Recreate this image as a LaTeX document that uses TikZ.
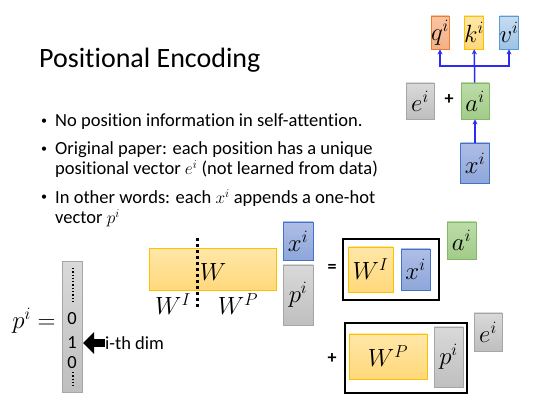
\documentclass[tikz,border=0pt]{standalone}
\usepackage{fontspec}
\setmainfont{Carlito}[Ligatures=NoCommon]
\usetikzlibrary{positioning}
\usetikzlibrary{arrows.meta}
\usetikzlibrary{calc}

\definecolor{grayL}{HTML}{D9D9D9}
\definecolor{grayM}{HTML}{BFBFBF}
\definecolor{grayD}{HTML}{A6A6A6}
\definecolor{greenL}{HTML}{BCDCA8}
\definecolor{greenM}{HTML}{A2CB88}
\definecolor{greenD}{HTML}{82B86A}
\definecolor{blueL}{HTML}{AEBEE6}
\definecolor{blueM}{HTML}{8EA6DA}
\definecolor{blueD}{HTML}{4472C4}
\definecolor{oranL}{HTML}{F8C4A2}
\definecolor{oranM}{HTML}{F4B183}
\definecolor{oranD}{HTML}{ED7D31}
\definecolor{yellL}{HTML}{FFE7A8}
\definecolor{yellM}{HTML}{FFD87A}
\definecolor{yellD}{HTML}{FFC000}
\definecolor{skyL}{HTML}{C7DDF1}
\definecolor{skyM}{HTML}{9DC3E6}
\definecolor{skyD}{HTML}{5B9BD5}
\definecolor{arrblue}{HTML}{2B2BF5}

\newcommand{\boxfont}{\fontsize{23}{24}\selectfont}
\newcommand{\bodyfont}{\fontsize{18.5}{20}\selectfont}

\begin{document}
\begin{tikzpicture}
    [ x=1pt, y=-1pt,
    inner sep=0pt,
    vec/.style={draw, line width=0.8pt, font=\boxfont},
    G/.style={vec, draw=grayD, top color=grayL, bottom color=grayM},
    Gr/.style={vec, draw=greenD, top color=greenL, bottom color=greenM},
    B/.style={vec, draw=blueD, top color=blueL, bottom color=blueM},
    Or/.style={vec, draw=oranD, top color=oranL, bottom color=oranM},
    Y/.style={vec, draw=yellD, top color=yellL, bottom color=yellM},
    S/.style={vec, draw=skyD, top color=skyL, bottom color=skyM},
    frame/.style={draw, line width=2pt},
    arr/.style={draw=arrblue, line width=1.5pt, -{Stealth[length=5pt,width=5pt]}},
    txt/.style={font=\bodyfont, anchor=west, align=left},
    dot/.style={font=\fontsize{12}{12}\selectfont}
    ]

    \useasboundingbox (0,0) rectangle (552,414);

    % title and bullets
    \node[anchor=west, font=\fontsize{28}{32}\selectfont] (title) at (39,60) {Positional Encoding};

    \node[dot] (d1) at (44,122) {\textbullet};
    \node[dot] (d2) at (44,150) {\textbullet};
    \node[dot] (d3) at (44,198) {\textbullet};
    \node[txt] (b1) at (55,122) {No position information in self-attention.};
    \node[txt] (b2) at (55,160) {Original paper: each position has a unique\\positional vector $e^i$ (not learned from data)};
    \node[txt] (b3) at (55,208) {In other words: each $x^i$ appends a one-hot\\vector $p^i$};

    % self-attention input
    \node[Or, minimum width=18, minimum height=33] (q) at (440,32.5) {$q^i$};
    \node[Y,  minimum width=18, minimum height=33] (k) at (474,32.5) {$k^i$};
    \node[S,  minimum width=18, minimum height=33] (v) at (509,32.5) {$v^i$};
    \node[G,  minimum width=28, minimum height=36] (e) at (420,101) {$e^i$};
    \node[font=\bfseries\fontsize{18}{20}\selectfont] (plus) at (449,100) {+};
    \node[Gr, minimum width=28, minimum height=36] (a) at (475,101) {$a^i$};
    \node[B,  minimum width=29, minimum height=40] (x) at (475,163) {$x^i$};

    \coordinate (split) at ($(a.north)!0.5!(k.south)$);
    \draw[arr] (x) -- (a);
    \draw[arr] (a) -- (k);
    \draw[arr] (split) -| (q.south);
    \draw[arr] (split) -| (v.south);

    % W times concatenated vector
    \node[Y, line width=1pt, minimum width=127, minimum height=42] (W) at (212.5,270) {};
    \coordinate (cutT) at (197,238);
    \coordinate (cutB) at (197,308);
    \draw[line width=3pt, dash pattern=on 3pt off 3pt] (cutT) -- (cutB);
    \node[font=\boxfont] (Wl) at (213,272) {$W$};
    \node[font=\boxfont] (WI) at (173,304) {$W^I$};
    \node[font=\boxfont] (WP) at (238,304) {$W^P$};
    \node[B, minimum width=30, minimum height=38] (xm) at (298,241) {$x^i$};
    \node[G, minimum width=30, minimum height=60] (pm) at (298,295) {$p^i$};

    % first term
    \node[font=\bfseries\fontsize{18}{20}\selectfont] (eq) at (332,268) {=};
    \node[frame, minimum width=96, minimum height=61] (F1) at (391,269.5) {};
    \node[Y, minimum width=45, minimum height=45] (WI2) at (370.5,269.5) {$W^I$};
    \node[B, minimum width=29, minimum height=41] (x2) at (415.5,269.5) {$x^i$};
    \node[Gr, minimum width=29, minimum height=37] (a2) at (461.5,240.5) {$a^i$};

    % second term
    \node[font=\bfseries\fontsize{18}{20}\selectfont] (plus2) at (332,359) {+};
    \node[frame, minimum width=122, minimum height=70] (F2) at (406,358) {};
    \node[Y, minimum width=78, minimum height=45] (WP2) at (388,356.5) {$W^P$};
    \node[G, minimum width=29, minimum height=60] (p2) at (448.5,357) {$p^i$};
    \node[G, minimum width=28, minimum height=38] (e2) at (488,332) {$e^i$};

    % one-hot vector
    \node[font=\boxfont] (peq) at (34,321) {$p^i =$};
    \node[G, line width=1pt, minimum width=20, minimum height=130] (col) at (72,327) {};
    \coordinate (dT) at (73,268);
    \coordinate (dB) at (73,303);
    \draw[line width=1.3pt, dash pattern=on 1.3pt off 2pt] (dT) -- (dB);
    \node[font=\bodyfont] (z1) at (72,319) {0};
    \node[font=\bodyfont] (one) at (72,343) {1};
    \node[font=\bodyfont] (z2) at (72,363) {0};
    \coordinate (eT) at (73,372);
    \coordinate (eB) at (73,386);
    \draw[line width=1.3pt, dash pattern=on 1.3pt off 2pt] (eT) -- (eB);
    \node[txt] (dim) at (105,343) {i-th dim};
    \coordinate (tip) at (83,343);
    \draw[line width=8pt, -{Triangle[length=11pt,width=21pt]}] (dim.west) -- (tip);
\end{tikzpicture}
\end{document}
